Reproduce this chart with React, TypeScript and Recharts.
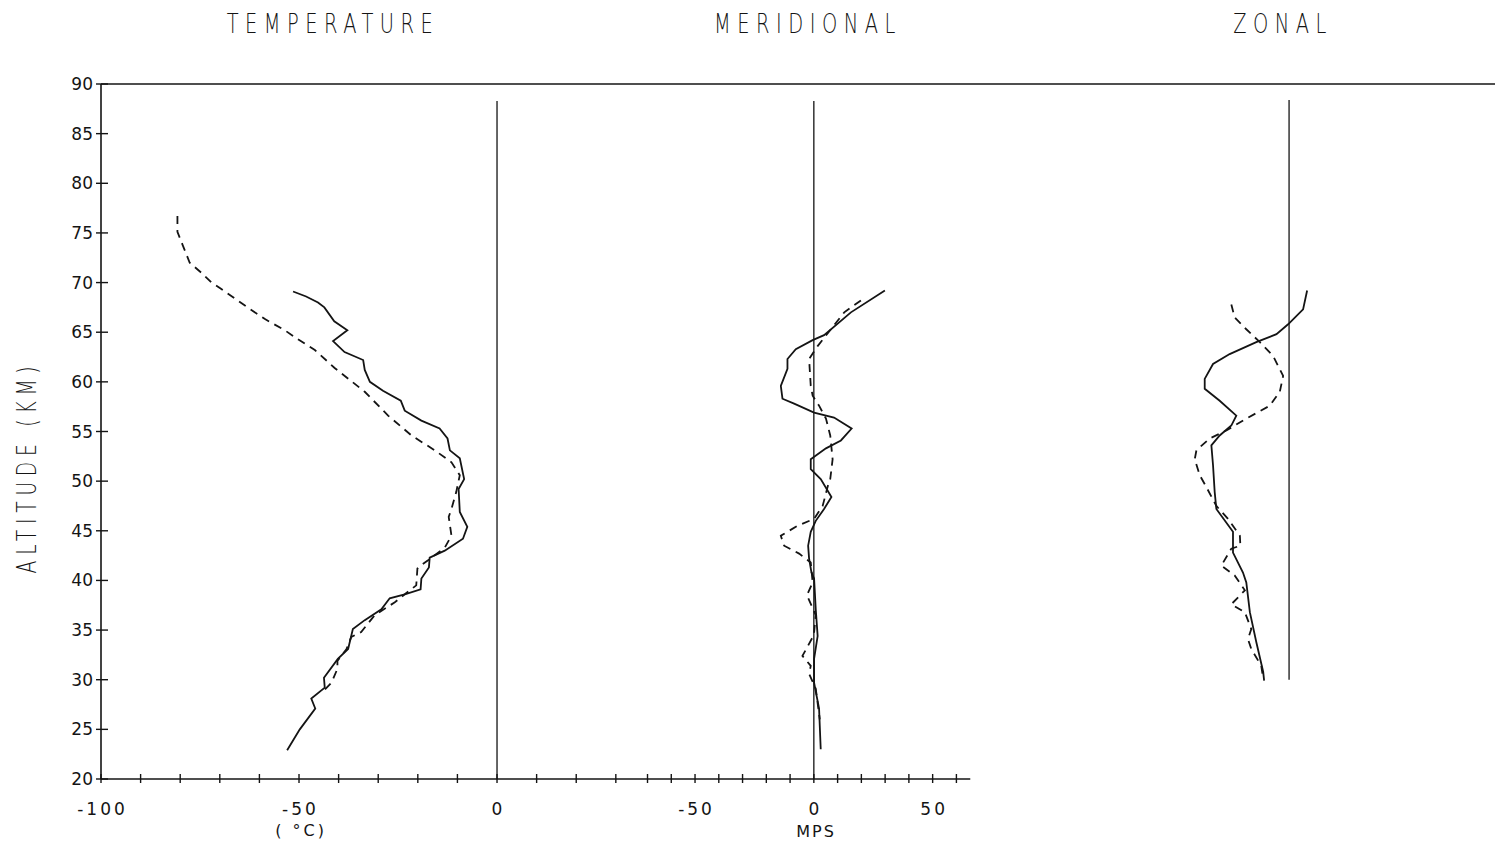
import React from 'react';
import { ScatterChart, Scatter, XAxis, YAxis, ReferenceLine } from 'recharts';

// ---- scale constants (axis units) ----
const MER_ZERO = 80;   // meridional 0 m/s position on shared x axis
const ZON_ZERO = 200;  // zonal 0 m/s position on shared x axis
const WIND_UNITS_PER_MPS = 3 / 5;

// ---- tick definitions ----
const altitudeTicks = [20, 25, 30, 35, 40, 45, 50, 55, 60, 65, 70, 75, 80, 85, 90];
const tempTicks = [-100, -90, -80, -70, -60, -50, -40, -30, -20, -10, 0, 10, 20, 30];
const merTicksMps = [-70, -60, -50, -40, -30, -20, -10, 0, 10, 20, 30, 40, 50, 60];
const tempLabels = [
  { value: -100, text: '-100' },
  { value: -50, text: '-50' },
  { value: 0, text: '0' },
];
const merLabels = [
  { value: -50, text: '-50' },
  { value: 0, text: '0' },
  { value: 50, text: '50' },
];
const titles = ['TEMPERATURE', 'MERIDIONAL', 'ZONAL'];

// ---- data: [altitude km, value] ----
const tempSolid: [number, number][] = [
  [69.1, -51.5], [68.6, -48.2], [68.0, -45.2], [67.5, -43.6], [66.1, -41.1], [65.2, -37.8],
  [64.1, -41.4], [63.0, -38.5], [62.2, -33.8], [61.2, -33.4], [60.0, -32.1], [59.1, -28.8],
  [58.1, -24.3], [57.1, -23.3], [56.1, -19.1], [55.3, -14.5], [54.3, -12.5], [53.1, -11.9],
  [52.3, -9.4], [50.2, -8.3], [49.2, -9.7], [46.9, -9.4], [45.4, -7.5], [44.2, -8.6],
  [43.0, -13.2], [42.3, -17.0], [41.3, -17.2], [40.2, -19.1], [39.1, -19.3], [38.6, -23.3],
  [38.2, -27.1], [37.1, -29.2], [36.0, -33.4], [35.1, -36.4], [33.1, -37.6], [32.1, -40.2],
  [30.2, -43.7], [29.2, -43.5], [28.1, -46.9], [27.1, -45.9], [25.0, -49.8], [22.9, -53.0],
];
const tempDashed: [number, number][] = [
  [76.7, -80.7], [75.1, -80.7], [73.7, -79.3], [72.0, -77.6], [71.0, -74.7], [70.0, -72.1],
  [69.4, -69.8], [67.5, -63.0], [66.3, -58.5], [65.2, -53.6], [64.3, -50.3], [63.2, -46.0],
  [61.4, -41.0], [59.0, -33.4], [56.6, -27.5], [54.6, -21.6], [53.1, -15.7], [51.9, -11.5],
  [50.6, -9.4], [48.9, -10.3], [47.2, -11.5], [46.4, -12.2], [44.5, -11.5], [43.3, -13.2],
  [42.0, -17.5], [41.4, -19.6], [41.2, -20.1], [39.5, -20.4], [38.6, -23.3], [37.8, -25.8],
  [36.5, -30.9], [34.8, -34.3], [34.3, -36.8], [33.1, -38.0], [31.9, -40.3], [31.1, -40.3],
  [29.7, -41.8], [29.0, -43.5],
];
const merSolid: [number, number][] = [
  [69.2, 29.9], [67.0, 15.6], [64.7, 4.3], [64.2, -0.5], [63.3, -7.6], [62.3, -11.1],
  [61.3, -11.1], [59.6, -13.9], [58.3, -13.2], [57.8, -8.3], [56.9, 0.1], [56.4, 8.5],
  [55.3, 15.9], [54.1, 11.4], [53.3, 5.1], [52.2, -1.3], [51.2, -1.3], [50.2, 2.9],
  [48.4, 7.4], [47.2, 4.3], [46.0, 0.8], [44.9, -1.3], [43.5, -2.4], [42.2, -2.0],
  [40.8, -1.0], [40.2, 0.1], [37.1, 0.8], [34.4, 1.6], [32.1, 0.1], [29.7, 0.1],
  [27.1, 2.2], [23.0, 2.9],
];
const merDashed: [number, number][] = [
  [68.2, 19.8], [67.0, 12.8], [65.3, 7.2], [63.6, 1.6], [62.3, -2.0], [59.6, -1.3],
  [58.6, -0.5], [57.6, 2.2], [56.3, 5.1], [54.6, 6.9], [52.2, 7.9], [50.2, 6.9],
  [49.6, 6.0], [47.5, 3.7], [46.2, 0.1], [45.5, -6.9], [44.5, -13.9], [43.5, -12.5],
  [42.7, -6.2], [41.8, -1.3], [39.8, -0.5], [38.5, -2.9], [36.5, 0.8], [34.5, 0.0],
  [32.4, -4.8], [31.4, -1.3], [30.6, -2.0], [29.1, 0.8], [26.0, 2.5],
];
const zonSolid: [number, number][] = [
  [69.2, 7.6], [67.3, 5.9], [65.8, -0.4], [64.8, -5.3], [64.0, -13.8], [62.8, -25.0],
  [61.8, -32.0], [60.3, -35.5], [59.3, -35.5], [58.1, -29.2], [56.6, -22.2], [55.6, -24.3],
  [54.6, -29.2], [53.6, -32.7], [51.6, -32.0], [48.9, -31.3], [47.2, -30.6], [44.9, -23.6],
  [42.8, -23.6], [40.8, -19.4], [39.8, -18.0], [36.8, -16.5], [33.8, -13.8], [30.8, -10.9],
  [29.9, -10.5],
];
const zonDashed: [number, number][] = [
  [67.8, -24.3], [66.5, -22.9], [65.3, -18.0], [64.0, -12.3], [62.6, -6.7], [60.6, -2.5],
  [59.0, -3.9], [57.6, -8.1], [56.3, -18.0], [55.1, -26.4], [54.3, -33.4], [53.1, -39.0],
  [52.2, -39.7], [50.6, -37.6], [49.4, -34.8], [47.5, -30.6], [46.2, -25.7], [44.5, -20.7],
  [43.5, -20.5], [43.2, -24.3], [41.5, -28.5], [40.5, -22.9], [39.0, -18.6], [37.6, -24.3],
  [36.8, -18.6], [35.1, -15.9], [34.1, -17.3], [33.1, -15.9], [31.4, -11.7], [30.1, -10.9],
];

// ---- build plotting tables ----
const tempPts = (arr: [number, number][]) => arr.map(([a, v]) => ({ x: v, y: a }));
const windPts = (arr: [number, number][], zero: number) =>
  arr.map(([a, v]) => ({ x: zero + v * WIND_UNITS_PER_MPS, y: a }));

const merUnits = (v: number) => MER_ZERO + (v * 3) / 5;
const xTicks = [...tempTicks, ...merTicksMps.map(merUnits)];
const labelList = [
  ...tempLabels.map((l) => ({ at: l.value, text: l.text })),
  ...merLabels.map((l) => ({ at: merUnits(l.value), text: l.text })),
];

const INK = '#141414';
const FONT = '"DejaVu Sans", sans-serif';
const LW = 1.8;

const BottomTick = (props: any) => {
  const { x, y, payload } = props;
  const lab = labelList.find((l) => Math.abs(l.at - payload.value) < 0.01);
  return (
    <g>
      <line x1={x} x2={x} y1={y - 5} y2={y + 4} stroke={INK} strokeWidth={1.4} />
      {lab && (
        <text x={x + 1.5} y={y + 36} textAnchor="middle" fontFamily={FONT} fontSize={17}
          letterSpacing={3} fill={INK}>
          {lab.text}
        </text>
      )}
    </g>
  );
};

const LeftTick = (props: any) => {
  const { x, y, payload } = props;
  return (
    <g>
      <line x1={x - 5} x2={x + 7} y1={y} y2={y} stroke={INK} strokeWidth={1.4} />
      <text x={x - 8} y={y + 6} textAnchor="end" fontFamily={FONT} fontSize={17} fill={INK}>
        {payload.value}
      </text>
    </g>
  );
};

const noDot = () => <g />;

const titleStyle: React.CSSProperties = {
  position: 'absolute',
  top: 9,
  width: 400,
  textAlign: 'center',
  fontFamily: FONT,
  fontSize: 27,
  letterSpacing: 9,
  color: INK,
  transform: 'scaleX(0.72)',
  lineHeight: '30px',
  fontWeight: 300,
  whiteSpace: 'nowrap',
};

const titleCenters = [333, 808, 1283];

export default function App() {
  return (
    <div style={{ position: 'absolute', left: 0, top: 0, width: 1495, height: 848, background: '#fff', overflow: 'hidden' }}>
      <ScatterChart width={1495} height={848} margin={{ top: 84, right: 0, bottom: 29, left: 41 }}>
        <XAxis type="number" dataKey="x" domain={[-100, 252]} allowDataOverflow ticks={xTicks}
          interval={0} axisLine={false} tickLine={false} tickSize={0} tickMargin={0}
          tick={<BottomTick />} height={40} />
        <YAxis type="number" dataKey="y" domain={[20, 90]} allowDataOverflow ticks={altitudeTicks}
          interval={0} axisLine={{ stroke: INK, strokeWidth: 1.6 }} tickLine={false} tickSize={0}
          tickMargin={0} tick={<LeftTick />} width={60} />
        <ReferenceLine y={90} stroke={INK} strokeWidth={1.6} />
        <ReferenceLine segment={[{ x: -100, y: 20 }, { x: 119.5, y: 20 }]} stroke={INK} strokeWidth={1.6} ifOverflow="visible" />
        <ReferenceLine segment={[{ x: 0, y: 88.3 }, { x: 0, y: 20 }]} stroke={INK} strokeWidth={1.3} />
        <ReferenceLine segment={[{ x: MER_ZERO, y: 88.3 }, { x: MER_ZERO, y: 20 }]} stroke={INK} strokeWidth={1.3} />
        <ReferenceLine segment={[{ x: ZON_ZERO, y: 88.4 }, { x: ZON_ZERO, y: 30 }]} stroke={INK} strokeWidth={1.3} />
        <Scatter data={tempPts(tempSolid)} fill={INK} shape={noDot} isAnimationActive={false}
          line={{ stroke: INK, strokeWidth: LW }} />
        <Scatter data={tempPts(tempDashed)} fill={INK} shape={noDot} isAnimationActive={false}
          line={{ stroke: INK, strokeWidth: LW, strokeDasharray: '8 6' }} />
        <Scatter data={windPts(merSolid, MER_ZERO)} fill={INK} shape={noDot} isAnimationActive={false}
          line={{ stroke: INK, strokeWidth: LW }} />
        <Scatter data={windPts(merDashed, MER_ZERO)} fill={INK} shape={noDot} isAnimationActive={false}
          line={{ stroke: INK, strokeWidth: LW, strokeDasharray: '8 6' }} />
        <Scatter data={windPts(zonSolid, ZON_ZERO)} fill={INK} shape={noDot} isAnimationActive={false}
          line={{ stroke: INK, strokeWidth: LW }} />
        <Scatter data={windPts(zonDashed, ZON_ZERO)} fill={INK} shape={noDot} isAnimationActive={false}
          line={{ stroke: INK, strokeWidth: LW, strokeDasharray: '8 6' }} />
      </ScatterChart>

      {titles.map((t, i) => (
        <div key={t} style={{ ...titleStyle, left: titleCenters[i] - 200 }}>{t}</div>
      ))}

      <div style={{
        position: 'absolute', left: 27 - 200, top: 467 - 15, width: 400, height: 30,
        textAlign: 'center', fontFamily: FONT, fontSize: 26, letterSpacing: 8, color: INK,
        lineHeight: '30px', transform: 'rotate(-90deg) scaleX(0.72)', fontWeight: 300,
        whiteSpace: 'nowrap',
      }}>ALTITUDE (KM)</div>

      <div style={{
        position: 'absolute', left: 301 - 50, top: 821, width: 100, textAlign: 'center',
        fontFamily: FONT, fontSize: 16, letterSpacing: 3, color: INK, lineHeight: '20px',
        whiteSpace: 'nowrap',
      }}>( °C)</div>
      <div style={{
        position: 'absolute', left: 816 - 50, top: 822, width: 100, textAlign: 'center',
        fontFamily: FONT, fontSize: 16, letterSpacing: 2, color: INK, lineHeight: '20px',
        whiteSpace: 'nowrap',
      }}>MPS</div>
    </div>
  );
}
